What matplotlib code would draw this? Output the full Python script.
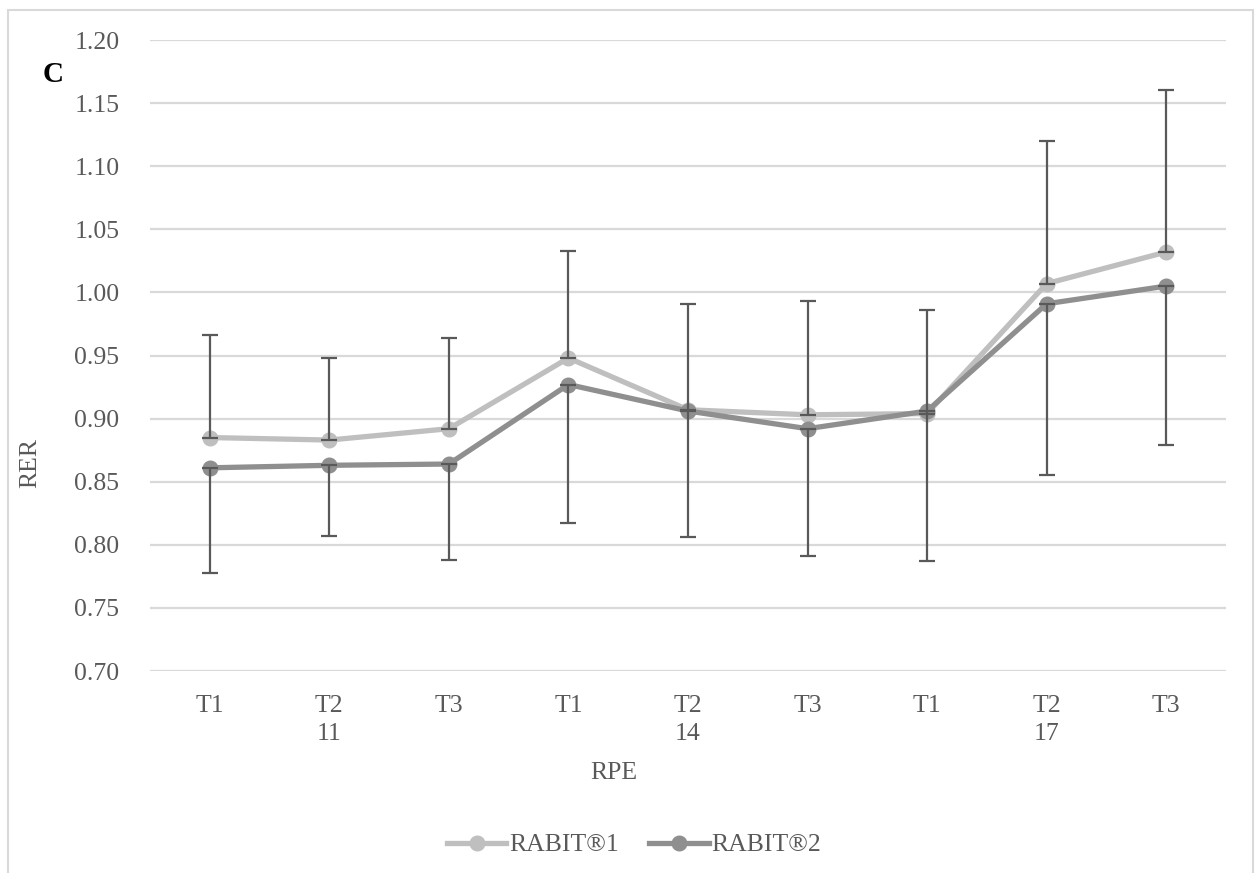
import matplotlib
matplotlib.use("Agg")
import matplotlib.pyplot as plt
from matplotlib.patches import Rectangle
import numpy as np

# ---- data ----
trials = ["T1", "T2", "T3", "T1", "T2", "T3", "T1", "T2", "T3"]
rpe_levels = ["", "11", "", "", "14", "", "", "17", ""]
rabit1 = [0.885, 0.883, 0.892, 0.948, 0.907, 0.903, 0.904, 1.007, 1.032]
rabit2 = [0.861, 0.863, 0.864, 0.927, 0.906, 0.892, 0.906, 0.991, 1.005]
rabit1_sd = [0.081, 0.065, 0.072, 0.085, 0.084, 0.090, 0.082, 0.113, 0.128]
rabit2_sd = [0.083, 0.056, 0.076, 0.110, 0.100, 0.101, 0.119, 0.136, 0.126]
series_names = ["RABIT\u00ae1", "RABIT\u00ae2"]
y_ticks = [0.70, 0.75, 0.80, 0.85, 0.90, 0.95, 1.00, 1.05, 1.10, 1.15, 1.20]

plt.rcParams['font.family'] = ['Liberation Serif', 'DejaVu Serif']
FS = 18.5

W, H = 1255, 873
fig = plt.figure(figsize=(W / 100, H / 100), dpi=100)
fig.patch.set_facecolor("white")
fig.patches.append(Rectangle((8 / W, -0.02), (1253 - 8) / W, 1 - 10 / H + 0.02,
                             transform=fig.transFigure, fill=False,
                             edgecolor="#D9D9D9", linewidth=1.5))

ax = fig.add_axes([150 / W, (H - 671) / H, 1076 / W, 631 / H])
x = np.arange(len(trials))

c1, c2, ce = "#BFBFBF", "#8F8F8F", "#595959"
ax.plot(x, rabit1, color=c1, lw=3.8, marker="o", ms=10.5, zorder=3, label=series_names[0])
ax.plot(x, rabit2, color=c2, lw=3.8, marker="o", ms=10.5, zorder=4, label=series_names[1])

zeros = np.zeros(len(x))
ax.errorbar(x, rabit1, yerr=[zeros, rabit1_sd], fmt="none", ecolor=ce,
            elinewidth=1.6, capsize=6, capthick=1.6, zorder=5)
ax.errorbar(x, rabit2, yerr=[rabit2_sd, zeros], fmt="none", ecolor=ce,
            elinewidth=1.6, capsize=6, capthick=1.6, zorder=5)

ax.set_xlim(-0.5, len(x) - 0.5)
ax.set_ylim(0.70, 1.20)
ax.set_yticks(y_ticks)
ax.set_yticklabels([f"{v:.2f}" for v in y_ticks])
ax.set_xticks(x)
ax.set_xticklabels([t if r == "" else f"{t}\n{r}" for t, r in zip(trials, rpe_levels)],
                   linespacing=1.35, va="top")
ax.grid(axis="y", color="#D9D9D9", lw=1.6, zorder=0)
ax.set_axisbelow(True)
for s in ax.spines.values():
    s.set_visible(False)
ax.tick_params(axis="both", length=0, labelsize=FS, colors="#595959")
ax.tick_params(axis="y", pad=22)
ax.tick_params(axis="x", pad=17)

fig.text(30 / W, 1 - 463 / H, "RER", rotation=90, ha="center", va="center",
         fontsize=FS, color="#595959")
fig.text(614 / W, 1 - 773 / H, "RPE", ha="center", va="center",
         fontsize=FS, color="#595959")
fig.text(53 / W, 1 - 75 / H, "C", ha="center", va="center",
         fontsize=21, color="black", fontweight="bold")

fig.legend(loc="center", bbox_to_anchor=(634 / W, 1 - 845 / H), ncol=2, frameon=False,
           fontsize=FS, labelcolor="#595959", handlelength=2.3, handletextpad=0.1,
           columnspacing=1.2)

fig.savefig("out.png", dpi=100)
